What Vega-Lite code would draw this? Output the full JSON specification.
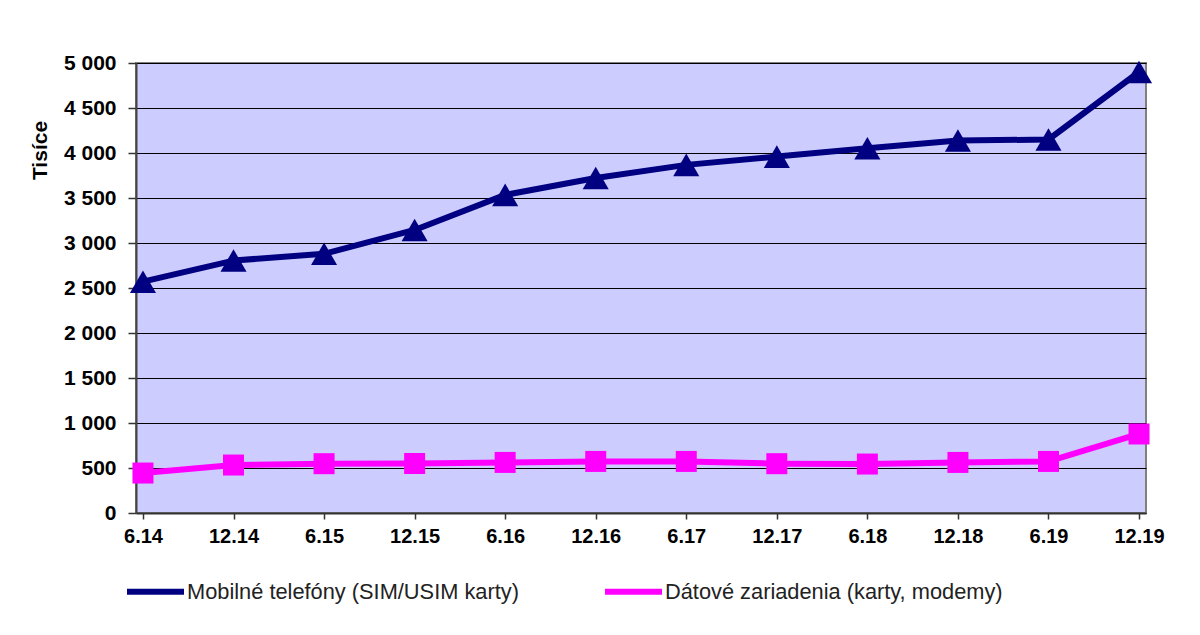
{
  "$schema": "https://vega.github.io/schema/vega-lite/v6.json",
  "width": 1010,
  "height": 450,
  "autosize": "none",
  "padding": {"left": 136, "top": 63, "right": 54, "bottom": 122},
  "background": "white",
  "config": {
    "font": "Liberation Sans",
    "view": {"fill": "#CCCCFF", "stroke": "#808080", "strokeWidth": 2}
  },
  "data": {
    "values": [
      {"period": "6.14", "series": "Mobilné telefóny (SIM/USIM karty)", "value": 2570},
      {"period": "12.14", "series": "Mobilné telefóny (SIM/USIM karty)", "value": 2805},
      {"period": "6.15", "series": "Mobilné telefóny (SIM/USIM karty)", "value": 2880},
      {"period": "12.15", "series": "Mobilné telefóny (SIM/USIM karty)", "value": 3145},
      {"period": "6.16", "series": "Mobilné telefóny (SIM/USIM karty)", "value": 3535},
      {"period": "12.16", "series": "Mobilné telefóny (SIM/USIM karty)", "value": 3722},
      {"period": "6.17", "series": "Mobilné telefóny (SIM/USIM karty)", "value": 3868},
      {"period": "12.17", "series": "Mobilné telefóny (SIM/USIM karty)", "value": 3960},
      {"period": "6.18", "series": "Mobilné telefóny (SIM/USIM karty)", "value": 4052},
      {"period": "12.18", "series": "Mobilné telefóny (SIM/USIM karty)", "value": 4138},
      {"period": "6.19", "series": "Mobilné telefóny (SIM/USIM karty)", "value": 4150},
      {"period": "12.19", "series": "Mobilné telefóny (SIM/USIM karty)", "value": 4900},
      {"period": "6.14", "series": "Dátové zariadenia (karty, modemy)", "value": 444},
      {"period": "12.14", "series": "Dátové zariadenia (karty, modemy)", "value": 533},
      {"period": "6.15", "series": "Dátové zariadenia (karty, modemy)", "value": 548},
      {"period": "12.15", "series": "Dátové zariadenia (karty, modemy)", "value": 550},
      {"period": "6.16", "series": "Dátové zariadenia (karty, modemy)", "value": 562},
      {"period": "12.16", "series": "Dátové zariadenia (karty, modemy)", "value": 573},
      {"period": "6.17", "series": "Dátové zariadenia (karty, modemy)", "value": 573},
      {"period": "12.17", "series": "Dátové zariadenia (karty, modemy)", "value": 548},
      {"period": "6.18", "series": "Dátové zariadenia (karty, modemy)", "value": 544},
      {"period": "12.18", "series": "Dátové zariadenia (karty, modemy)", "value": 562},
      {"period": "6.19", "series": "Dátové zariadenia (karty, modemy)", "value": 573},
      {"period": "12.19", "series": "Dátové zariadenia (karty, modemy)", "value": 878}
    ]
  },
  "encoding": {
    "x": {
      "field": "period",
      "type": "ordinal",
      "sort": null,
      "scale": {"type": "point", "padding": 0.077},
      "axis": {
        "title": null,
        "labelAngle": 0,
        "labelFont": "Liberation Sans",
        "labelFontSize": 20,
        "labelFontWeight": "bold",
        "labelColor": "black",
        "labelPadding": 7,
        "tickColor": "#333333",
        "tickSize": 6,
        "tickWidth": 1.5,
        "domainColor": "#333333",
        "domainWidth": 2,
        "grid": false
      }
    },
    "y": {
      "field": "value",
      "type": "quantitative",
      "scale": {"domain": [0, 5000], "nice": false, "zero": true},
      "axis": {
        "values": [0, 500, 1000, 1500, 2000, 2500, 3000, 3500, 4000, 4500, 5000],
        "labelExpr": "replace(format(datum.value, ','), ',', ' ')",
        "labelFont": "Liberation Sans",
        "labelFontSize": 21,
        "labelFontWeight": "bold",
        "labelColor": "black",
        "labelPadding": 12,
        "tickColor": "#333333",
        "tickSize": 8,
        "tickWidth": 1.5,
        "domainColor": "#444444",
        "domainWidth": 2,
        "grid": true,
        "gridColor": "black",
        "gridWidth": 1.2,
        "gridOpacity": 1,
        "title": "Tisíce",
        "titleFont": "Liberation Sans",
        "titleFontSize": 21,
        "titleFontWeight": "bold",
        "titleColor": "black",
        "titleAngle": -90,
        "titleX": -96,
        "titleY": 87,
        "titleAlign": "center",
        "titleBaseline": "middle"
      }
    }
  },
  "layer": [
    {
      "mark": {"type": "line", "strokeWidth": 6, "strokeCap": "butt", "strokeJoin": "round"},
      "encoding": {
        "color": {
          "field": "series",
          "type": "nominal",
          "sort": ["Mobilné telefóny (SIM/USIM karty)", "Dátové zariadenia (karty, modemy)"],
          "scale": {
            "domain": ["Mobilné telefóny (SIM/USIM karty)", "Dátové zariadenia (karty, modemy)"],
            "range": ["#000080", "#FF00FF"]
          },
          "legend": {
            "title": null,
            "orient": "none",
            "direction": "horizontal",
            "legendX": -12,
            "legendY": 497,
            "padding": 0,
            "symbolType": "stroke",
            "symbolSize": 3249,
            "symbolStrokeWidth": 6,
            "labelFont": "Liberation Sans",
            "labelFontSize": 21.8,
            "labelColor": "#222222",
            "labelOffset": 0,
            "labelLimit": 600,
            "columnPadding": 74
          }
        }
      }
    },
    {
      "transform": [{"filter": "datum.series === 'Mobilné telefóny (SIM/USIM karty)'"}],
      "mark": {"type": "point", "shape": "triangle-up", "filled": true, "opacity": 1, "color": "#000080", "strokeWidth": 0, "size": 680},
      "encoding": {}
    },
    {
      "transform": [{"filter": "datum.series === 'Dátové zariadenia (karty, modemy)'"}],
      "mark": {"type": "point", "shape": "square", "filled": true, "opacity": 1, "color": "#FF00FF", "strokeWidth": 0, "size": 441},
      "encoding": {}
    }
  ]
}
